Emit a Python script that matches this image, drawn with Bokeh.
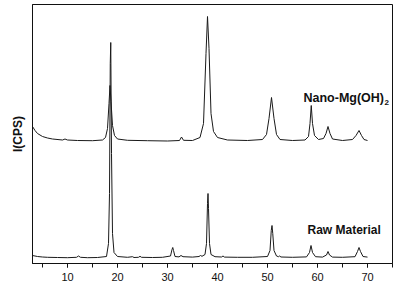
from bokeh.plotting import figure
from bokeh.models import Range1d, SingleIntervalTicker, FixedTicker, Label, Title
from bokeh.embed import file_html
from bokeh.resources import INLINE

# ---- data ----
raw_x = [3, 4, 5, 6, 8, 10, 11.8, 12.2, 12.6, 14, 16, 17.8, 18.2, 18.4, 18.55, 18.65,
         18.8, 19.0, 19.3, 20, 22, 23.0, 23.3, 24.2, 24.5, 24.8, 27, 29, 30.6, 30.9,
         31.05, 31.2, 31.5, 32.3, 32.7, 33.1, 35, 36.3, 36.6, 36.9, 37.5, 37.8, 38.0,
         38.1, 38.2, 38.4, 38.7, 39.5, 40.8, 41.1, 41.4, 44, 47, 50.0, 50.5, 50.75,
         50.9, 51.05, 51.3, 51.8, 52.2, 52.4, 52.7, 55, 57.8, 58.4, 58.7, 59.0, 59.6,
         61, 61.8, 62.1, 62.4, 63, 65, 67.5, 68.0, 68.3, 68.6, 69.1, 70]
raw_y = [80, 70, 65, 62, 60, 58, 62, 75, 62, 58, 60, 70, 200, 700, 2000, 2210,
         1100, 300, 110, 70, 62, 68, 60, 62, 72, 62, 60, 62, 75, 140,
         160, 130, 70, 66, 80, 68, 64, 70, 80, 72, 90, 200, 600,
         700, 550, 200, 90, 68, 65, 75, 64, 62, 62, 70, 130, 330,
         380, 300, 130, 75, 68, 75, 65, 62, 66, 110, 180, 110, 68,
         64, 85, 120, 85, 64, 62, 68, 120, 160, 120, 70, 64]

nano_x = [3, 3.5, 4, 5, 6, 7, 9, 9.5, 10, 12, 15, 17, 17.6, 18.0, 18.3, 18.5, 18.7,
          19.0, 19.4, 20, 22, 26, 30, 32.4, 32.8, 33.2, 35, 36.5, 37.2, 37.7, 38.0,
          38.3, 38.7, 39.2, 40, 42, 46, 49, 49.8, 50.3, 50.8, 51.3, 51.8, 52.5, 55,
          57.5, 58.2, 58.5, 58.75, 59.0, 59.4, 60.2, 61.2, 61.7, 62.1, 62.5, 63, 65,
          67, 67.7, 68.3, 68.8, 69.3, 70]
nano_y = [1370, 1330, 1300, 1270, 1255, 1245, 1235, 1245, 1235, 1230, 1228, 1235,
          1260, 1350, 1600, 1780, 1620, 1380, 1280, 1245, 1232, 1228, 1225, 1230,
          1265, 1232, 1230, 1260, 1400, 2100, 2470, 2150, 1500, 1320, 1260, 1235,
          1230, 1240, 1290, 1450, 1660, 1450, 1290, 1240, 1230, 1235, 1270, 1400,
          1580, 1400, 1280, 1240, 1250, 1300, 1370, 1300, 1245, 1230, 1240, 1280,
          1330, 1280, 1240, 1230]

FONT = "Liberation Sans"

p = figure(width=411, height=300, output_backend="svg", toolbar_location=None,
           x_range=Range1d(3, 75), y_range=Range1d(0, 2590),
           min_border_left=32, min_border_right=19, min_border_top=4,
           min_border_bottom=37)

p.background_fill_color = "white"
p.border_fill_color = "white"
p.outline_line_color = "#111111"
p.outline_line_width = 1
p.grid.visible = False

# x axis
xa = p.xaxis[0]
xa.ticker = SingleIntervalTicker(interval=10, num_minor_ticks=2)
xa.axis_line_color = "#111111"
xa.major_tick_line_color = "#111111"
xa.minor_tick_line_color = "#111111"
xa.major_tick_in = 0
xa.major_tick_out = 4
xa.minor_tick_in = 0
xa.minor_tick_out = 4
xa.major_label_standoff = 5
xa.major_label_text_font = FONT
xa.major_label_text_font_size = "11px"
xa.major_label_text_color = "#111111"

# y axis (no ticks, no labels)
ya = p.yaxis[0]
ya.ticker = FixedTicker(ticks=[])
ya.axis_line_color = "#111111"
ya.major_tick_line_color = None
ya.minor_tick_line_color = None

p.add_layout(Title(text="I(CPS)", align="center", text_font=FONT,
                   text_font_size="12px", text_font_style="bold",
                   text_color="#111111", standoff=15, offset=-4), "left")

p.line(raw_x, raw_y, line_color="#1a1a1a", line_width=1)
p.line(nano_x, nano_y, line_color="#1a1a1a", line_width=1)

p.add_layout(Label(x=57.2, y=1660, text="Nano-Mg(OH)", text_font=FONT,
                   text_font_size="12.5px", text_font_style="bold",
                   text_baseline="middle", text_color="#111111"))
p.add_layout(Label(x=73.4, y=1610, text="2", text_font=FONT,
                   text_font_size="8px", text_font_style="bold",
                   text_baseline="middle", text_color="#111111"))
p.add_layout(Label(x=58.0, y=340, text="Raw Material", text_font=FONT,
                   text_font_size="12px", text_font_style="bold",
                   text_baseline="middle", text_color="#111111"))
p.add_layout(Label(x=30.6, y=-270, text="2θ/°", text_font=FONT,
                   text_font_size="15px", text_font_style="normal",
                   text_baseline="middle", text_color="#111111"))

open("out.html", "w").write(file_html(p, INLINE))
